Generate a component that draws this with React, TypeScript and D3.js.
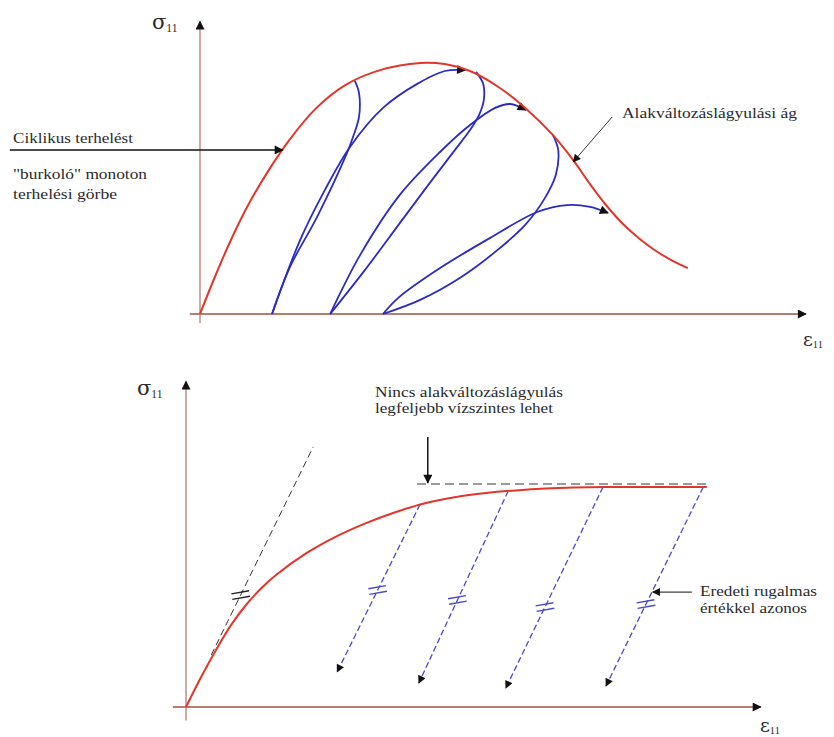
import React from 'react';
import * as d3 from 'd3';

// upper diagram: envelope + cyclic loops, [strain, stress]
const envelope: [number, number][] = [
  [0, 0], [0.22, 1.1], [0.5, 2.4], [0.83, 3.73], [1.17, 4.87], [1.5, 5.83], [1.92, 6.83],
  [2.42, 7.63], [3.0, 8.13], [3.67, 8.37], [4.08, 8.33], [4.5, 8.1], [4.95, 7.6],
  [5.42, 6.87], [5.88, 5.97], [6.22, 5.13], [6.5, 4.33], [6.78, 3.6], [7.05, 3.0],
  [7.33, 2.5], [7.6, 2.1], [7.87, 1.78], [8.13, 1.53]
];

const unload1: [number, number][] = [
  [2.58, 7.77], [2.65, 7.37], [2.65, 6.57], [2.55, 5.9], [2.45, 5.37], [1.95, 3.23], [1.5, 1.57], [1.2, 0]
];
const reload1: [number, number][] = [
  [1.2, 0], [1.67, 2.47], [2.08, 4.13], [2.5, 5.57], [3.05, 6.87], [3.62, 7.67], [4.08, 8.1], [4.42, 8.13]
];
const unload2: [number, number][] = [
  [4.6, 8.07], [4.72, 7.67], [4.73, 7.13], [4.65, 6.63], [4.5, 6.13], [4.25, 5.47], [3.83, 4.37],
  [3.33, 3.03], [2.75, 1.47], [2.17, 0]
];
const reload2: [number, number][] = [
  [2.17, 0], [2.67, 1.97], [3.33, 3.97], [4.0, 5.4], [4.5, 6.3], [4.92, 6.87], [5.17, 7.0], [5.43, 6.8]
];
const unload3: [number, number][] = [
  [5.88, 5.97], [5.97, 5.47], [5.93, 4.63], [5.75, 3.87], [5.42, 2.97], [4.92, 2.07], [4.33, 1.2], [3.67, 0.47], [3.05, 0]
];
const reload3: [number, number][] = [
  [3.05, 0], [3.3, 0.53], [4.0, 1.53], [4.83, 2.53], [5.62, 3.4], [6.12, 3.63], [6.5, 3.57], [6.8, 3.37]
];

// lower diagram: hardening curve, unloading lines
const hardening: [number, number][] = [
  [0, 0], [0.25, 0.99], [0.5, 1.9], [0.75, 2.73], [1.0, 3.4], [1.25, 3.95], [1.5, 4.4],
  [2.0, 5.12], [2.5, 5.68], [3.0, 6.13], [3.5, 6.5], [4.0, 6.8], [4.5, 7.0], [5.0, 7.13],
  [5.5, 7.22], [6.0, 7.28], [7.0, 7.33], [8.68, 7.33]
];
const unloadStart: [number, number][] = [[3.9, 6.75], [5.37, 7.2], [6.95, 7.33], [8.62, 7.33]];
const unloadEnd: [number, number][] = [[2.52, 1.17], [3.88, 0.8], [5.33, 0.63], [7.0, 0.7]];
const neqStress = [3.9, 3.57, 3.33, 3.43];
const elastic: [number, number][] = [[0.42, 1.73], [2.12, 8.67]];
const elasticNeq = 3.73;
const plateau = { stress: 7.43, from: 3.85, to: 8.68 };

const W = 834;
const H = 737;

const topX = d3.scaleLinear().domain([0, 10]).range([200, 800]);
const topY = d3.scaleLinear().domain([0, 10]).range([314, 14]);
const botX = d3.scaleLinear().domain([0, 10]).range([186, 786]);
const botY = d3.scaleLinear().domain([0, 10]).range([707, 407]);

const RED = '#e2352b';
const BLUE = '#2b2bc4';
const DBLUE = '#4848cc';
const AXIS = '#b47f6f';
const TXT = '#2a2a2a';
const SERIF = "'Liberation Serif', 'Times New Roman', serif";

const curveTop = d3.line<[number, number]>()
  .x((d) => topX(d[0]))
  .y((d) => topY(d[1]))
  .curve(d3.curveCatmullRom.alpha(0.5));

const curveBot = d3.line<[number, number]>()
  .x((d) => botX(d[0]))
  .y((d) => botY(d[1]))
  .curve(d3.curveCatmullRom.alpha(0.5));

const Neq = ({ x, y, color }: { x: number, y: number, color: string }) => (
  <g transform={`translate(${x},${y}) rotate(-10)`} stroke={color} strokeWidth={1.4}>
    <line x1={-9} x2={9} y1={-2.8} y2={-2.8} />
    <line x1={-9} x2={9} y1={2.8} y2={2.8} />
  </g>
);

const Label = ({ x, y, sym, size }: { x: number, y: number, sym: string, size: number }) => (
  <text x={x} y={y} style={{ fontFamily: "'DejaVu Serif', serif" }} fontSize={size} fill={TXT}>
    {sym}
    <tspan fontSize={size * 0.55} dy={size * 0.12} style={{ fontFamily: SERIF }}>11</tspan>
  </text>
);

const Txt = ({ x, y, w, children }: { x: number, y: number, w: number, children: string }) => (
  <text x={x} y={y} style={{ fontFamily: SERIF }} fontSize={14.5} fill={TXT}
    textLength={w} lengthAdjust="spacingAndGlyphs">{children}</text>
);

export default function App() {
  const loops = [
    { un: unload1, re: reload1 },
    { un: unload2, re: reload2 },
    { un: unload3, re: reload3 }
  ];

  return (
    <svg width={W} height={H} style={{ position: 'absolute', left: 0, top: 0, display: 'block', background: '#fff' }}>
      <defs>
        <marker id="head" viewBox="0 0 10 10" refX={9} refY={5} markerWidth={11} markerHeight={9}
          markerUnits="userSpaceOnUse" orient="auto">
          <path d="M0,0 L10,5 L0,10 z" fill="#111" />
        </marker>
        <marker id="headS" viewBox="0 0 10 10" refX={9} refY={5} markerWidth={10} markerHeight={8}
          markerUnits="userSpaceOnUse" orient="auto">
          <path d="M0,0 L10,5 L0,10 z" fill="#111" />
        </marker>
      </defs>

      {/* upper diagram */}
      <line x1={topX(0)} x2={topX(0)} y1={topY(-0.3)} y2={topY(9.75)} stroke={AXIS} strokeWidth={1.3} markerEnd="url(#head)" />
      <line x1={topX(-0.17)} x2={topX(10.1)} y1={topY(0)} y2={topY(0)} stroke={AXIS} strokeWidth={2} markerEnd="url(#head)" />
      <Label x={152} y={29} sym="σ" size={21} />
      <Label x={803} y={346} sym="ε" size={19} />

      {loops.map((l, i) => (
        <g key={i} fill="none" stroke={BLUE} strokeWidth={1.8}>
          <path d={curveTop(l.un) || ''} />
          <path d={curveTop(l.re) || ''} markerEnd="url(#head)" />
        </g>
      ))}
      <path d={curveTop(envelope) || ''} fill="none" stroke={RED} strokeWidth={2} />

      <line x1={topX(-3.17)} x2={topX(1.38)} y1={topY(5.47)} y2={topY(5.47)} stroke="#111" strokeWidth={1.5} markerEnd="url(#head)" />
      <line x1={topX(6.87)} x2={topX(6.22)} y1={topY(6.57)} y2={topY(5.07)} stroke="#333" strokeWidth={1} markerEnd="url(#headS)" />

      <Txt x={13} y={143} w={120}>Ciklikus terhelést</Txt>
      <Txt x={13} y={179} w={134}>"burkoló" monoton</Txt>
      <Txt x={13} y={199} w={104}>terhelési görbe</Txt>
      <Txt x={622} y={118} w={175}>Alakváltozáslágyulási ág</Txt>

      {/* lower diagram */}
      <line x1={botX(0)} x2={botX(0)} y1={botY(-0.45)} y2={botY(10.85)} stroke={AXIS} strokeWidth={1.3} markerEnd="url(#head)" />
      <line x1={botX(-0.22)} x2={botX(9.58)} y1={botY(0)} y2={botY(0)} stroke={AXIS} strokeWidth={2} markerEnd="url(#head)" />
      <Label x={137} y={395} sym="σ" size={21} />
      <Label x={760} y={732} sym="ε" size={19} />

      <path d={curveBot(elastic) || ''} fill="none" stroke="#333" strokeWidth={1} strokeDasharray="7,4" />
      <Neq x={botX(elasticNeq * (elastic[1][0] / elastic[1][1]))} y={botY(elasticNeq)} color="#222" />

      <line x1={botX(plateau.from)} x2={botX(plateau.to)} y1={botY(plateau.stress)} y2={botY(plateau.stress)}
        stroke="#9a9a9a" strokeWidth={2} strokeDasharray="9,5" />

      {unloadStart.map((s, i) => {
        const e = unloadEnd[i];
        const t = (s[1] - neqStress[i]) / (s[1] - e[1]);
        const nx = s[0] + (e[0] - s[0]) * t;
        return (
          <g key={i}>
            <line x1={botX(s[0])} y1={botY(s[1])} x2={botX(e[0])} y2={botY(e[1])}
              stroke={DBLUE} strokeWidth={1.3} strokeDasharray="6,3" markerEnd="url(#headS)" />
            <Neq x={botX(nx)} y={botY(neqStress[i])} color={DBLUE} />
          </g>
        );
      })}

      <path d={curveBot(hardening) || ''} fill="none" stroke={RED} strokeWidth={2} />

      <line x1={botX(4.03)} x2={botX(4.03)} y1={botY(9.0)} y2={botY(7.47)} stroke="#111" strokeWidth={1.5} markerEnd="url(#head)" />
      <line x1={botX(8.43)} x2={botX(7.78)} y1={botY(3.83)} y2={botY(3.83)} stroke="#111" strokeWidth={1} markerEnd="url(#headS)" />

      <Txt x={375} y={397} w={188}>Nincs alakváltozáslágyulás</Txt>
      <Txt x={375} y={413} w={178}>legfeljebb vízszintes lehet</Txt>
      <Txt x={700} y={596} w={117}>Eredeti rugalmas</Txt>
      <Txt x={700} y={613} w={107}>értékkel azonos</Txt>
    </svg>
  );
}
